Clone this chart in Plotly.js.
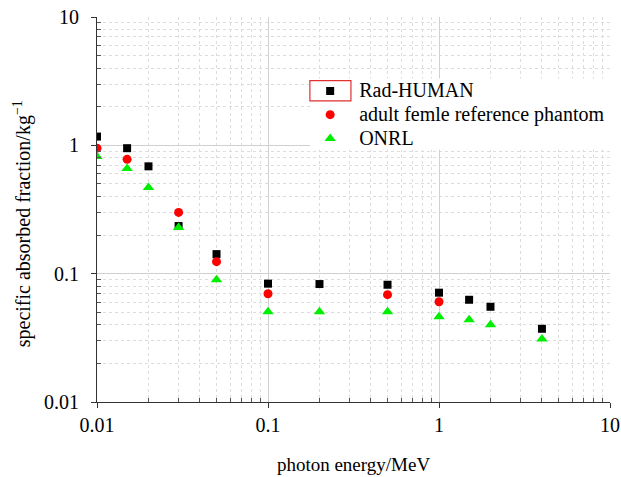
<!DOCTYPE html>
<html>
<head>
<meta charset="utf-8">
<script src="https://cdn.plot.ly/plotly-3.0.1.min.js"></script>
<style>html,body{margin:0;padding:0;background:#fff;}#chart{width:621px;height:477px;}</style>
</head>
<body>
<div id="chart"></div>
<script>
const radEnergy = [0.01, 0.015, 0.02, 0.03, 0.05, 0.1, 0.2, 0.5, 1, 1.5, 2, 4];
const radSAF    = [1.17, 0.95, 0.686, 0.235, 0.142, 0.0836, 0.083, 0.082, 0.0711, 0.0626, 0.0552, 0.0372];

const femEnergy = [0.01, 0.015, 0.03, 0.05, 0.1, 0.5, 1];
const femSAF    = [0.95, 0.778, 0.30, 0.124, 0.0698, 0.0686, 0.0604];

const onrlEnergy = [0.01, 0.015, 0.02, 0.03, 0.05, 0.1, 0.2, 0.5, 1, 1.5, 2, 4];
const onrlSAF    = [0.82, 0.66, 0.47, 0.229, 0.0897, 0.0505, 0.0505, 0.0505, 0.0461, 0.0437, 0.040, 0.031];

const seriesNames = ["Rad-HUMAN", "adult femle reference phantom", "ONRL"];

const majorTicks = [0.01, 0.1, 1, 10];
const majorLabels = ["0.01", "0.1", "1", "10"];
const minorTicks = [0.02,0.03,0.04,0.05,0.06,0.07,0.08,0.09,
                    0.2,0.3,0.4,0.5,0.6,0.7,0.8,0.9,
                    2,3,4,5,6,7,8,9];

const font = "Liberation Serif, Times New Roman, serif";
const big = n => '<span style="font-size:20px">' + n + '</span>';

const traces = [
  {x: radEnergy, y: radSAF, name: big(seriesNames[0]), mode: "markers", type: "scatter",
   marker: {symbol: "square", size: 8, color: "#000000"}},
  {x: femEnergy, y: femSAF, name: big(seriesNames[1]), mode: "markers", type: "scatter",
   marker: {symbol: "circle", size: 9, color: "#ff0000"}},
  {x: onrlEnergy, y: onrlSAF, name: big(seriesNames[2]), mode: "markers", type: "scatter",
   marker: {symbol: "triangle-up", size: 10, color: "#00ee00"}}
];

function axis(extra) {
  return Object.assign({
    type: "log",
    range: [-2, 1],
    tickmode: "array", tickvals: majorTicks, ticktext: majorLabels,
    showline: true, linecolor: "#333", linewidth: 1,
    ticks: "outside", ticklen: 5, tickcolor: "#333",
    showgrid: true, gridcolor: "#d0d0d0", gridwidth: 1,
    zeroline: false,
    tickfont: {family: font, size: 20, color: "#000"},
    minor: {tickmode: "array", tickvals: minorTicks, showgrid: true,
            gridcolor: "#dddddd", griddash: "3px,3px", gridwidth: 1,
            ticks: "inside", ticklen: 4, tickcolor: "#555"}
  }, extra);
}

const layout = {
  width: 621, height: 477,
  margin: {l: 97, r: 11, t: 17, b: 75},
  paper_bgcolor: "#fff", plot_bgcolor: "#fff",
  font: {family: font, color: "#000"},
  showlegend: true,
  legend: {x: 0.398, y: 0.852, xanchor: "left", yanchor: "top",
           bgcolor: "rgba(0,0,0,0)", font: {family: font, size: 16, color: "#000"},
           itemwidth: 48, tracegroupgap: 0},
  xaxis: axis({
    title: {text: "photon energy/MeV", font: {family: font, size: 19}, standoff: 22}
  }),
  yaxis: axis({
    ticklabelstandoff: 8
  }),
  annotations: [
    {text: "specific absorbed fraction/kg<sup>\u22121</sup>", textangle: -90,
     xref: "paper", yref: "paper", x: -0.146, y: 0.462,
     xanchor: "center", yanchor: "middle", showarrow: false,
     font: {family: font, size: 20, color: "#000"}}
  ],
  shapes: [
    {type: "rect", xref: "paper", yref: "paper", layer: "above",
     x0: 0.415, x1: 1.0, y0: 0.655, y1: 0.84,
     line: {width: 0}, fillcolor: "#ffffff"},
    {type: "rect", xref: "paper", yref: "paper", layer: "above",
     x0: 0.415, x1: 0.495, y0: 0.782, y1: 0.835,
     line: {color: "#e03030", width: 1.2}, fillcolor: "rgba(0,0,0,0)"}
  ]
};

Plotly.newPlot("chart", traces, layout, {displayModeBar: false, staticPlot: true});
</script>
</body>
</html>
